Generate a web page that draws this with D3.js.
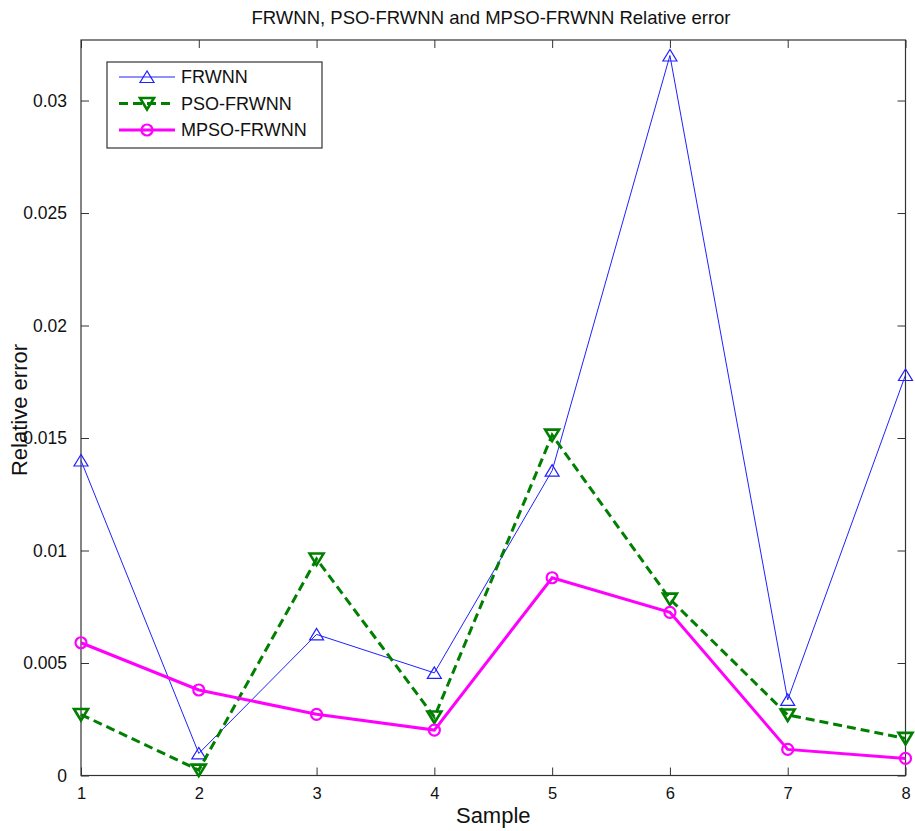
<!DOCTYPE html>
<html>
<head>
<meta charset="utf-8">
<script src="https://cdn.jsdelivr.net/npm/d3@7"></script>
<style>
  body { margin: 0; background: #fff; }
  text { font-family: "Liberation Sans", Arial, Helvetica, sans-serif; fill: #111; }
</style>
</head>
<body>
<div id="canvas"></div>
<script>
const samples = [1, 2, 3, 4, 5, 6, 7, 8];
const frwnn = [0.0140, 0.00098, 0.00627, 0.00456, 0.01355, 0.0320, 0.00336, 0.0178];
const psoFrwnn = [0.00271, 0.00024, 0.00962, 0.0026, 0.01513, 0.00784, 0.00269, 0.00165];
const mpsoFrwnn = [0.0059, 0.0038, 0.00272, 0.00202, 0.00879, 0.00725, 0.00116, 0.00076];
const yTicks = [0, 0.005, 0.01, 0.015, 0.02, 0.025, 0.03];
const seriesNames = ["FRWNN", "PSO-FRWNN", "MPSO-FRWNN"];

let margin = { top: 40, right: 9.5, bottom: 55.5, left: 81 },
  W = 915, H = 831,
  width = W - margin.left - margin.right,
  height = H - margin.top - margin.bottom;

let root = d3.select("#canvas").append("svg")
  .attr("width", W)
  .attr("height", H);

let svg = root.append("g")
  .attr("transform", "translate(" + margin.left + "," + margin.top + ")");

let x = d3.scaleLinear().domain([1, 8]).range([0, width]);
let y = d3.scaleLinear().domain([0, 0.03269]).range([height, 0]);

// series styles
const series = [
  { name: seriesNames[0], values: frwnn, color: "#2020ff", width: 1, dash: null, marker: "up" },
  { name: seriesNames[1], values: psoFrwnn, color: "#007f00", width: 3, dash: "9,5", marker: "down" },
  { name: seriesNames[2], values: mpsoFrwnn, color: "#ff00ff", width: 3, dash: null, marker: "circle" }
];

function markerPath(type) {
  if (type === "up") return "M0,-6L-7,5.5L7,5.5Z";
  if (type === "down") return "M0,6L-7,-5.5L7,-5.5Z";
  return null;
}

function drawMarker(g, s, cx, cy) {
  if (s.marker === "circle") {
    g.append("circle").attr("cx", cx).attr("cy", cy).attr("r", 5.5)
      .attr("fill", "none").attr("stroke", s.color).attr("stroke-width", 2.2);
  } else {
    g.append("path").attr("d", markerPath(s.marker))
      .attr("transform", "translate(" + cx + "," + cy + ")")
      .attr("fill", "none").attr("stroke", s.color)
      .attr("stroke-width", s.marker === "down" ? 2.6 : 1.2);
  }
}

// axes with inward ticks on all sides
svg.append("g")
  .attr("transform", "translate(0," + height + ")")
  .call(d3.axisBottom(x).tickValues(samples).tickSizeInner(-8).tickSizeOuter(0).tickPadding(12).tickFormat(d3.format("d")))
  .call(g => g.selectAll("text").attr("font-size", 16.5).attr("font-family", "Liberation Sans, Arial, sans-serif"));

svg.append("g")
  .call(d3.axisTop(x).tickValues(samples).tickSizeInner(-8).tickSizeOuter(0).tickFormat(""));

svg.append("g")
  .call(d3.axisLeft(y).tickValues(yTicks).tickSizeInner(-8).tickSizeOuter(0).tickPadding(14)
    .tickFormat(d => d === 0 ? "0" : d3.format("")(+d.toFixed(3))))
  .call(g => g.selectAll("text").attr("font-size", 17.5).attr("font-family", "Liberation Sans, Arial, sans-serif"));

svg.append("g")
  .attr("transform", "translate(" + width + ",0)")
  .call(d3.axisRight(y).tickValues(yTicks).tickSizeInner(-8).tickSizeOuter(0).tickFormat(""));

svg.selectAll(".domain").remove();
svg.selectAll(".tick line").attr("stroke", "#333");
svg.selectAll(".tick text").attr("fill", "#111");

svg.append("rect")
  .attr("width", width).attr("height", height)
  .attr("fill", "none").attr("stroke", "#333").attr("stroke-width", 1.2);

// lines
let line = d3.line().x((d, i) => x(samples[i])).y(d => y(d));

series.forEach(s => {
  svg.append("path")
    .datum(s.values)
    .attr("fill", "none")
    .attr("stroke", s.color)
    .attr("stroke-width", s.width)
    .attr("stroke-dasharray", s.dash)
    .attr("stroke-linejoin", "miter")
    .attr("d", line);
  let mg = svg.append("g");
  s.values.forEach((v, i) => drawMarker(mg, s, x(samples[i]), y(v)));
});

// legend
let legend = root.append("g").attr("transform", "translate(107,62)");
legend.append("rect")
  .attr("width", 215).attr("height", 86)
  .attr("fill", "#fff").attr("stroke", "#333").attr("stroke-width", 1.2);

series.forEach((s, i) => {
  let ly = 15 + i * 26.5;
  legend.append("line")
    .attr("x1", 12).attr("x2", 68).attr("y1", ly).attr("y2", ly)
    .attr("stroke", s.color).attr("stroke-width", s.width)
    .attr("stroke-dasharray", s.dash);
  drawMarker(legend, s, 40, ly);
  legend.append("text")
    .attr("x", 74).attr("y", ly)
    .attr("dy", "0.36em")
    .attr("font-size", 18)
    .text(s.name);
});

// title and labels
root.append("text")
  .attr("x", 491)
  .attr("y", 24)
  .attr("text-anchor", "middle")
  .attr("font-size", 18.5)
  .text("FRWNN, PSO-FRWNN and MPSO-FRWNN Relative error");

root.append("text")
  .attr("x", margin.left + width / 2)
  .attr("y", 823)
  .attr("text-anchor", "middle")
  .attr("font-size", 22)
  .text("Sample");

root.append("text")
  .attr("transform", "translate(27,410) rotate(-90)")
  .attr("text-anchor", "middle")
  .attr("font-size", 22)
  .text("Relative error");
</script>
</body>
</html>
